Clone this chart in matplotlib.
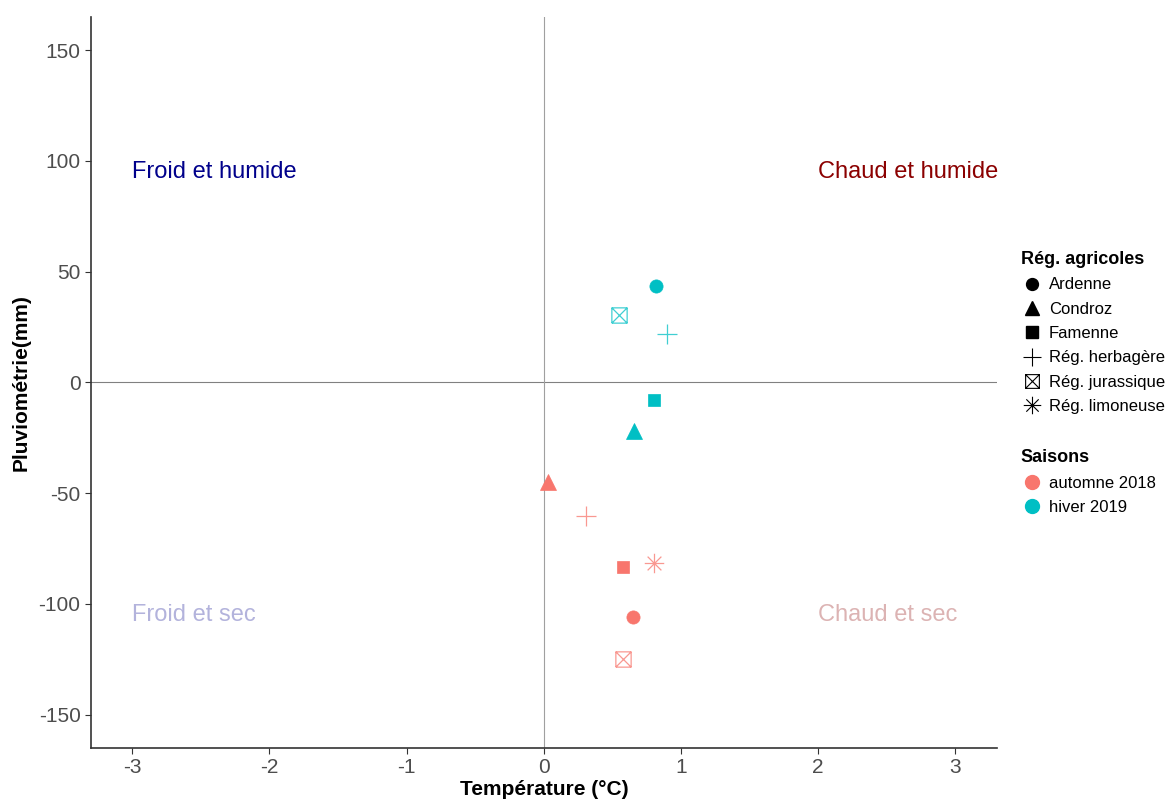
import matplotlib
matplotlib.use("Agg")
import matplotlib.pyplot as plt
from matplotlib.lines import Line2D
from matplotlib.path import Path

plt.rcParams['font.family'] = ['Liberation Sans', 'DejaVu Sans']
plt.rcParams['axes.unicode_minus'] = False

# data
regions = ["Ardenne", "Rég. jurassique", "Rég. herbagère", "Famenne", "Condroz",
           "Condroz", "Rég. herbagère", "Famenne", "Rég. limoneuse", "Ardenne",
           "Rég. jurassique"]
seasons = ["hiver 2019"] * 5 + ["automne 2018"] * 6
temperature = [0.82, 0.545, 0.90, 0.80, 0.66, 0.03, 0.305, 0.58, 0.80, 0.65, 0.58]
pluvio = [43.3, 30.2, 22.0, -8.1, -22.0, -45.0, -60.4, -83.4, -81.6, -106.0, -125.0]

region_order = ["Ardenne", "Condroz", "Famenne", "Rég. herbagère",
                "Rég. jurassique", "Rég. limoneuse"]
season_order = ["automne 2018", "hiver 2019"]
season_colors = {"automne 2018": "#F8766D", "hiver 2019": "#00BFC4"}

quadrant_labels = ["Froid et humide", "Chaud et humide", "Froid et sec", "Chaud et sec"]
quadrant_x = [-3, 2, -3, 2]
quadrant_y = [95, 95, -105, -105]
quadrant_colors = ["#00008B", "#8B0000", "#B3B3DC", "#DCB3B3"]

# custom marker paths (ggplot shapes 7 and 8)
M, L = Path.MOVETO, Path.LINETO
sq_cross = Path([(-1, -1), (1, -1), (1, 1), (-1, 1), (-1, -1),
                 (-1, -1), (1, 1), (-1, 1), (1, -1)],
                [M, L, L, L, L, M, L, M, L])
asterisk = Path([(-1, 0), (1, 0), (0, -1), (0, 1),
                 (-0.707, -0.707), (0.707, 0.707), (-0.707, 0.707), (0.707, -0.707)],
                [M, L, M, L, M, L, M, L])

styles = {
    "Ardenne": dict(marker="o", ms=9.5, filled=True),
    "Condroz": dict(marker="^", ms=11, filled=True),
    "Famenne": dict(marker="s", ms=9, filled=True),
    "Rég. herbagère": dict(marker="+", ms=14, filled=False),
    "Rég. jurassique": dict(marker=sq_cross, ms=11, filled=False),
    "Rég. limoneuse": dict(marker=asterisk, ms=14, filled=False),
}

fig = plt.figure(figsize=(11.67, 7.99), dpi=100)
ax = fig.add_axes([0.078, 0.064, 0.776, 0.915])

ax.axhline(0, color="#808080", lw=0.8, zorder=1)
ax.axvline(0, color="#A0A0A0", lw=0.8, zorder=1)

for r, s, x, y in zip(regions, seasons, temperature, pluvio):
    st = styles[r]
    c = season_colors[s]
    if st["filled"]:
        ax.plot(x, y, linestyle="none", marker=st["marker"], ms=st["ms"],
                color=c, mec=c, mew=0.5, zorder=3)
    else:
        ax.plot(x, y, linestyle="none", marker=st["marker"], ms=st["ms"],
                color=c, mfc="none", mec=c, mew=0.9, alpha=0.75, zorder=3)

for txt, x, y, c in zip(quadrant_labels, quadrant_x, quadrant_y, quadrant_colors):
    ax.text(x, y, txt, color=c, fontsize=17, ha="left", va="center")

ax.set_xlim(-3.3, 3.3)
ax.set_ylim(-165, 165)
ax.set_xticks([-3, -2, -1, 0, 1, 2, 3])
ax.set_yticks([-150, -100, -50, 0, 50, 100, 150])
ax.tick_params(labelsize=15, labelcolor="#4D4D4D", color="#333333", length=4)
for side in ["top", "right"]:
    ax.spines[side].set_visible(False)
for side in ["left", "bottom"]:
    ax.spines[side].set_color("#333333")
    ax.spines[side].set_linewidth(1.2)

ax.set_xlabel("Température (°C)", fontsize=15, fontweight="bold", labelpad=2)
ax.set_ylabel("Pluviométrie(mm)", fontsize=15, fontweight="bold", labelpad=6)

# legends
reg_handles = []
for r in region_order:
    st = styles[r]
    if st["filled"]:
        h = Line2D([], [], linestyle="none", marker=st["marker"],
                   ms=st["ms"] * 0.9, color="black")
    else:
        h = Line2D([], [], linestyle="none", marker=st["marker"],
                   ms=st["ms"] * 0.9, mfc="none", mec="black", mew=0.8)
    reg_handles.append(h)
leg1 = fig.legend(reg_handles, region_order, title="Rég. agricoles",
                  loc="upper left", bbox_to_anchor=(0.869, 0.694),
                  frameon=False, fontsize=12, title_fontsize=13,
                  handletextpad=0.3, labelspacing=0.56, borderaxespad=0,
                  handlelength=1.4, alignment="left")
leg1.get_title().set_fontweight("bold")

sea_handles = [Line2D([], [], linestyle="none", marker="o", ms=10,
                      color=season_colors[s]) for s in season_order]
leg2 = fig.legend(sea_handles, season_order, title="Saisons",
                  loc="upper left", bbox_to_anchor=(0.869, 0.446),
                  frameon=False, fontsize=12, title_fontsize=13,
                  handletextpad=0.3, labelspacing=0.56, borderaxespad=0,
                  handlelength=1.4, alignment="left")
leg2.get_title().set_fontweight("bold")

fig.savefig("out.png", dpi=100)
